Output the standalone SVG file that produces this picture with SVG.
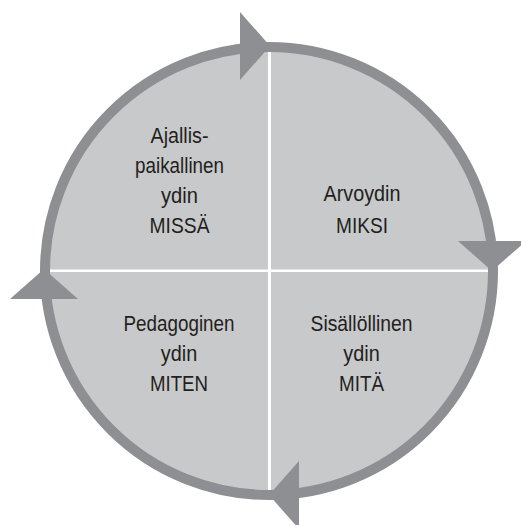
<svg xmlns="http://www.w3.org/2000/svg" width="521" height="525" viewBox="0 0 521 525">
  <style>
    .q { fill: #c8c9cb; }
    .t { font-family: "Liberation Sans", Arial, sans-serif; font-size: 21.5px; fill: #231f20; text-anchor: middle; }
    .ring { fill: none; stroke: #8e8f92; stroke-width: 10; }
    .arr { fill: #8e8f92; }
  </style>
  <defs>
    <polygon id="arrow" class="arr" points="0,0 -30,-34 -30,34"/>
  </defs>
  <rect width="521" height="525" fill="#ffffff"/>
  <g id="node-missa">
    <path class="q" d="M268,269.5 V47 A224,224 0 0 0 45,269.5 Z"/>
    <text class="t" x="179.5" y="143" textLength="58" lengthAdjust="spacingAndGlyphs">Ajallis-</text>
    <text class="t" x="179.5" y="173" textLength="89" lengthAdjust="spacingAndGlyphs">paikallinen</text>
    <text class="t" x="179.5" y="203" textLength="37" lengthAdjust="spacingAndGlyphs">ydin</text>
    <text class="t" x="179.5" y="233" textLength="60" lengthAdjust="spacingAndGlyphs">MISSÄ</text>
  </g>
  <g id="node-miksi">
    <path class="q" d="M271,269.5 V47.01 A224,224 0 0 1 493,269.5 Z"/>
    <text class="t" x="362" y="201" textLength="77" lengthAdjust="spacingAndGlyphs">Arvoydin</text>
    <text class="t" x="362" y="233" textLength="52" lengthAdjust="spacingAndGlyphs">MIKSI</text>
  </g>
  <g id="node-mita">
    <path class="q" d="M271,272 H493 A224,224 0 0 1 271,495 Z"/>
    <text class="t" x="361.5" y="331" textLength="102" lengthAdjust="spacingAndGlyphs">Sisällöllinen</text>
    <text class="t" x="361.5" y="361" textLength="36.5" lengthAdjust="spacingAndGlyphs">ydin</text>
    <text class="t" x="361.5" y="391" textLength="45" lengthAdjust="spacingAndGlyphs">MITÄ</text>
  </g>
  <g id="node-miten">
    <path class="q" d="M268,272 H45 A224,224 0 0 0 268,495 Z"/>
    <text class="t" x="179" y="331" textLength="111" lengthAdjust="spacingAndGlyphs">Pedagoginen</text>
    <text class="t" x="179" y="361" textLength="36.5" lengthAdjust="spacingAndGlyphs">ydin</text>
    <text class="t" x="179" y="391" textLength="58" lengthAdjust="spacingAndGlyphs">MITEN</text>
  </g>
  <g id="connectors">
    <circle class="ring" cx="269" cy="271" r="224"/>
    <use href="#arrow" transform="translate(270,46)"/>
    <use href="#arrow" transform="translate(492,271) rotate(90)"/>
    <use href="#arrow" transform="translate(269,495) rotate(180)"/>
    <use href="#arrow" transform="translate(44,269) rotate(-90)"/>
  </g>
</svg>
